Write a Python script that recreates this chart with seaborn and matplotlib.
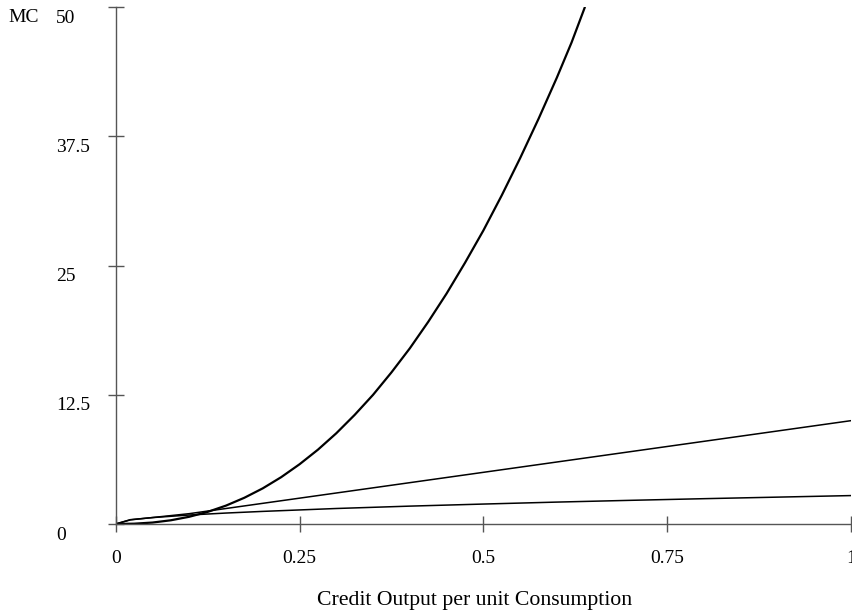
import matplotlib
matplotlib.use("Agg")
import matplotlib.pyplot as plt
import matplotlib.transforms as mtransforms
import seaborn as sns
import pandas as pd

# ---- data ----
steep_x = [0, 0.025, 0.05, 0.075, 0.1, 0.125, 0.15, 0.175, 0.2, 0.225, 0.25, 0.275,
           0.3, 0.325, 0.35, 0.375, 0.4, 0.425, 0.45, 0.475, 0.5, 0.525, 0.55,
           0.575, 0.6, 0.62, 0.638]
steep_y = [0, 0.03, 0.14, 0.36, 0.7, 1.17, 1.78, 2.54, 3.45, 4.53, 5.78, 7.19,
           8.78, 10.56, 12.5, 14.67, 17.0, 19.56, 22.3, 25.27, 28.4, 31.8, 35.4,
           39.2, 43.2, 46.6, 50.0]

mid_x = [0, 0.02, 0.1, 0.2, 0.3, 0.4, 0.5, 0.6, 0.7, 0.8, 0.9, 1.0]
mid_y = [0, 0.4, 1.0, 2.0, 3.0, 4.0, 5.0, 6.0, 7.0, 8.0, 9.0, 10.0]

flat_x = [0, 0.02, 0.05, 0.1, 0.15, 0.2, 0.3, 0.4, 0.5, 0.6, 0.7, 0.8, 0.9, 1.0]
flat_y = [0, 0.42, 0.62, 0.87, 1.06, 1.22, 1.5, 1.73, 1.93, 2.12, 2.29, 2.45, 2.6, 2.75]

x_ticks = [0, 0.25, 0.5, 0.75, 1]
x_tick_labels = ["0", "0.25", "0.5", "0.75", "1"]
y_ticks = [0, 12.5, 25, 37.5, 50]
y_tick_labels = ["0", "12.5", "25", "37.5", "50"]
x_title = "Credit Output per unit Consumption"
y_title = "MC"

# ---- style ----
sns.set_theme(style="white")
plt.rcParams["font.family"] = ["Liberation Serif", "DejaVu Serif"]

fig = plt.figure(figsize=(8.53, 6.12), dpi=100)
W, H = 853, 612
x0_px, x1_px = 115.7, 851.0
y0_px, y1_px = 524.0, 7.3
ax = fig.add_axes([x0_px / W, (H - y0_px) / H, (x1_px - x0_px) / W, (y0_px - y1_px) / H])
ax.set_facecolor("white")

df_s = pd.DataFrame({"x": steep_x, "y": steep_y})
df_m = pd.DataFrame({"x": mid_x, "y": mid_y})
df_f = pd.DataFrame({"x": flat_x, "y": flat_y})

sns.lineplot(data=df_s, x="x", y="y", ax=ax, color="black", linewidth=1.6, sort=False)
sns.lineplot(data=df_m, x="x", y="y", ax=ax, color="black", linewidth=1.1, sort=False)
sns.lineplot(data=df_f, x="x", y="y", ax=ax, color="black", linewidth=1.1, sort=False)

ax.set_xlim(0, 1)
ax.set_ylim(0, 50)

for s in ["top", "right"]:
    ax.spines[s].set_visible(False)
for s in ["left", "bottom"]:
    ax.spines[s].set_color("#555555")
    ax.spines[s].set_linewidth(1.0)

ax.set_xticks(x_ticks)
ax.set_xticklabels(x_tick_labels, fontsize=14)
ax.set_yticks(y_ticks)
ax.set_yticklabels(y_tick_labels, fontsize=14)

ax.tick_params(axis="both", which="major", bottom=True, left=True,
               direction="inout", length=11.5, width=1.0,
               color="#555555", labelcolor="black")
ax.tick_params(axis="x", pad=13)
# y tick labels: left-aligned at ~x=56px, shifted down a little
ax.tick_params(axis="y", pad=(x0_px - 8 - 56) / (100 / 72))
offset = mtransforms.ScaledTranslation(0, -9 / 100, fig.dpi_scale_trans)
for lab in ax.get_yticklabels():
    lab.set_horizontalalignment("left")
    lab.set_transform(lab.get_transform() + offset)

ax.set_xlabel(x_title, fontsize=15.7, color="black")
ax.xaxis.set_label_coords((475 - x0_px) / (x1_px - x0_px), -(601 - y0_px) / (y0_px - y1_px))
ax.xaxis.label.set_verticalalignment("center")

ax.set_ylabel(y_title, fontsize=14, rotation=0, color="black")
ax.yaxis.set_label_coords((8 - x0_px) / (x1_px - x0_px), (y0_px - 17) / (y0_px - y1_px))
ax.yaxis.label.set_horizontalalignment("left")
ax.yaxis.label.set_verticalalignment("center")

fig.savefig("out.png", dpi=100, facecolor="white")
